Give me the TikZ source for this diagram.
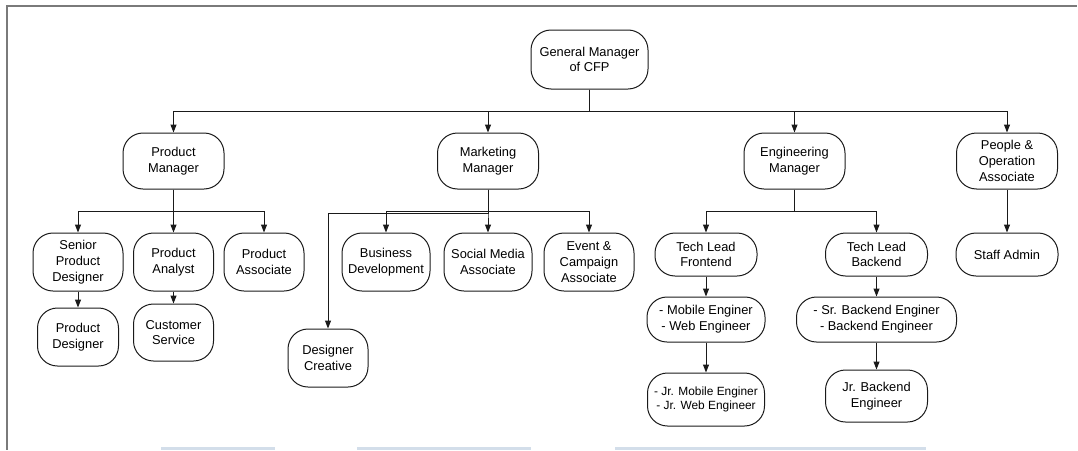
\documentclass[tikz,border=0pt]{standalone}
\usepackage{fontspec}
\setmainfont{Liberation Sans}
\usetikzlibrary{arrows.meta}

\definecolor{framegray}{HTML}{7A7A7A}
\definecolor{barblue}{HTML}{D3DEEA}
\definecolor{ink}{HTML}{1A1A1A}

\tikzset{
  role/.style={draw=ink, line width=1pt, rounded corners=20pt, align=center,
    inner sep=2pt, font=\fontsize{12.85}{15.7}\selectfont},
  mgr/.style={role, minimum width=101pt, minimum height=56pt},
  staff/.style={role, minimum width=80pt, minimum height=58pt},
  lead/.style={role, minimum width=102pt, minimum height=43pt},
  arr/.style={draw=ink, line width=1pt, -{Triangle[width=6pt,length=8pt]}}
}

\begin{document}
\begin{tikzpicture}[x=1pt,y=-1pt]
\useasboundingbox (0,0) rectangle (1078,450);
\draw[framegray, line width=2pt] (6,6) -- (1077,6);
\draw[framegray, line width=2pt] (7,6) -- (7,450);
\foreach \a/\b in {161/275,357/531,615/926}
    \fill[barblue] (\a,447) rectangle (\b,450);

\node[role, minimum width=117pt, minimum height=59pt] (gm) at (589.5,59.5) {General Manager\\of CFP};

\node[mgr] (pm) at (173.5,161) {Product\\Manager};
\node[mgr] (mm) at (488,161) {Marketing\\Manager};
\node[mgr] (em) at (794.5,161) {Engineering\\Manager};
\node[mgr] (po) at (1007,161) {People \&\\Operation\\Associate};

% product team
\node[staff, minimum width=90pt] (spd) at (78,262) {Senior\\Product\\Designer};
\node[staff] (pa) at (173.5,262) {Product\\Analyst};
\node[staff] (pas) at (264,262) {Product\\Associate};
\node[staff, minimum width=81pt] (pd) at (78,337) {Product\\Designer};
\node[staff, minimum height=57pt] (cs) at (173.5,332.5) {Customer\\Service};

% marketing team
\node[staff, minimum width=88pt] (bd) at (386,262) {Business\\Development};
\node[staff, minimum width=88pt] (sma) at (488,262) {Social Media\\Associate};
\node[staff, minimum width=90pt] (eca) at (589,262) {Event \&\\Campaign\\Associate};
\node[staff] (dc) at (328,358) {Designer\\Creative};

% engineering team
\node[lead] (tlf) at (706,254.5) {Tech Lead\\Frontend};
\node[lead] (tlb) at (876.5,254.5) {Tech Lead\\Backend};
\node[role, minimum width=118pt, minimum height=45pt] (fe) at (706,319.5) {- Mobile Enginer\\- Web Engineer};
\node[role, minimum width=160pt, minimum height=45pt] (be) at (876.5,319.5) {- Sr. Backend Enginer\\- Backend Engineer};
\node[role, minimum width=117pt, minimum height=53pt, font=\fontsize{11.9}{14.5}\selectfont] (jfe) at (706,399.5) {- Jr. Mobile Enginer\\- Jr. Web Engineer};
\node[role, minimum width=102pt, minimum height=52pt] (jbe) at (876.5,396) {Jr. Backend\\Engineer};

\node[lead] (sa) at (1007,254.5) {Staff Admin};

\foreach \t in {pm,mm,em,po}
    \draw[arr] (gm.south) -- ++(0,21.5) -| (\t.north);
\foreach \t in {spd,pa,pas}
    \draw[arr] (pm.south) -- ++(0,22) -| (\t.north);
\draw[arr] (mm.south) -- ++(0,23.5) -| (dc.north);
\foreach \t in {bd,sma,eca}
    \draw[arr] (mm.south) -- ++(0,22) -| (\t.north);
\foreach \t in {tlf,tlb}
    \draw[arr] (em.south) -- ++(0,22) -| (\t.north);
\foreach \a/\b in {spd/pd,pa/cs,tlf/fe,fe/jfe,tlb/be,be/jbe,po/sa}
    \draw[arr] (\a) -- (\b);
\end{tikzpicture}
\end{document}
